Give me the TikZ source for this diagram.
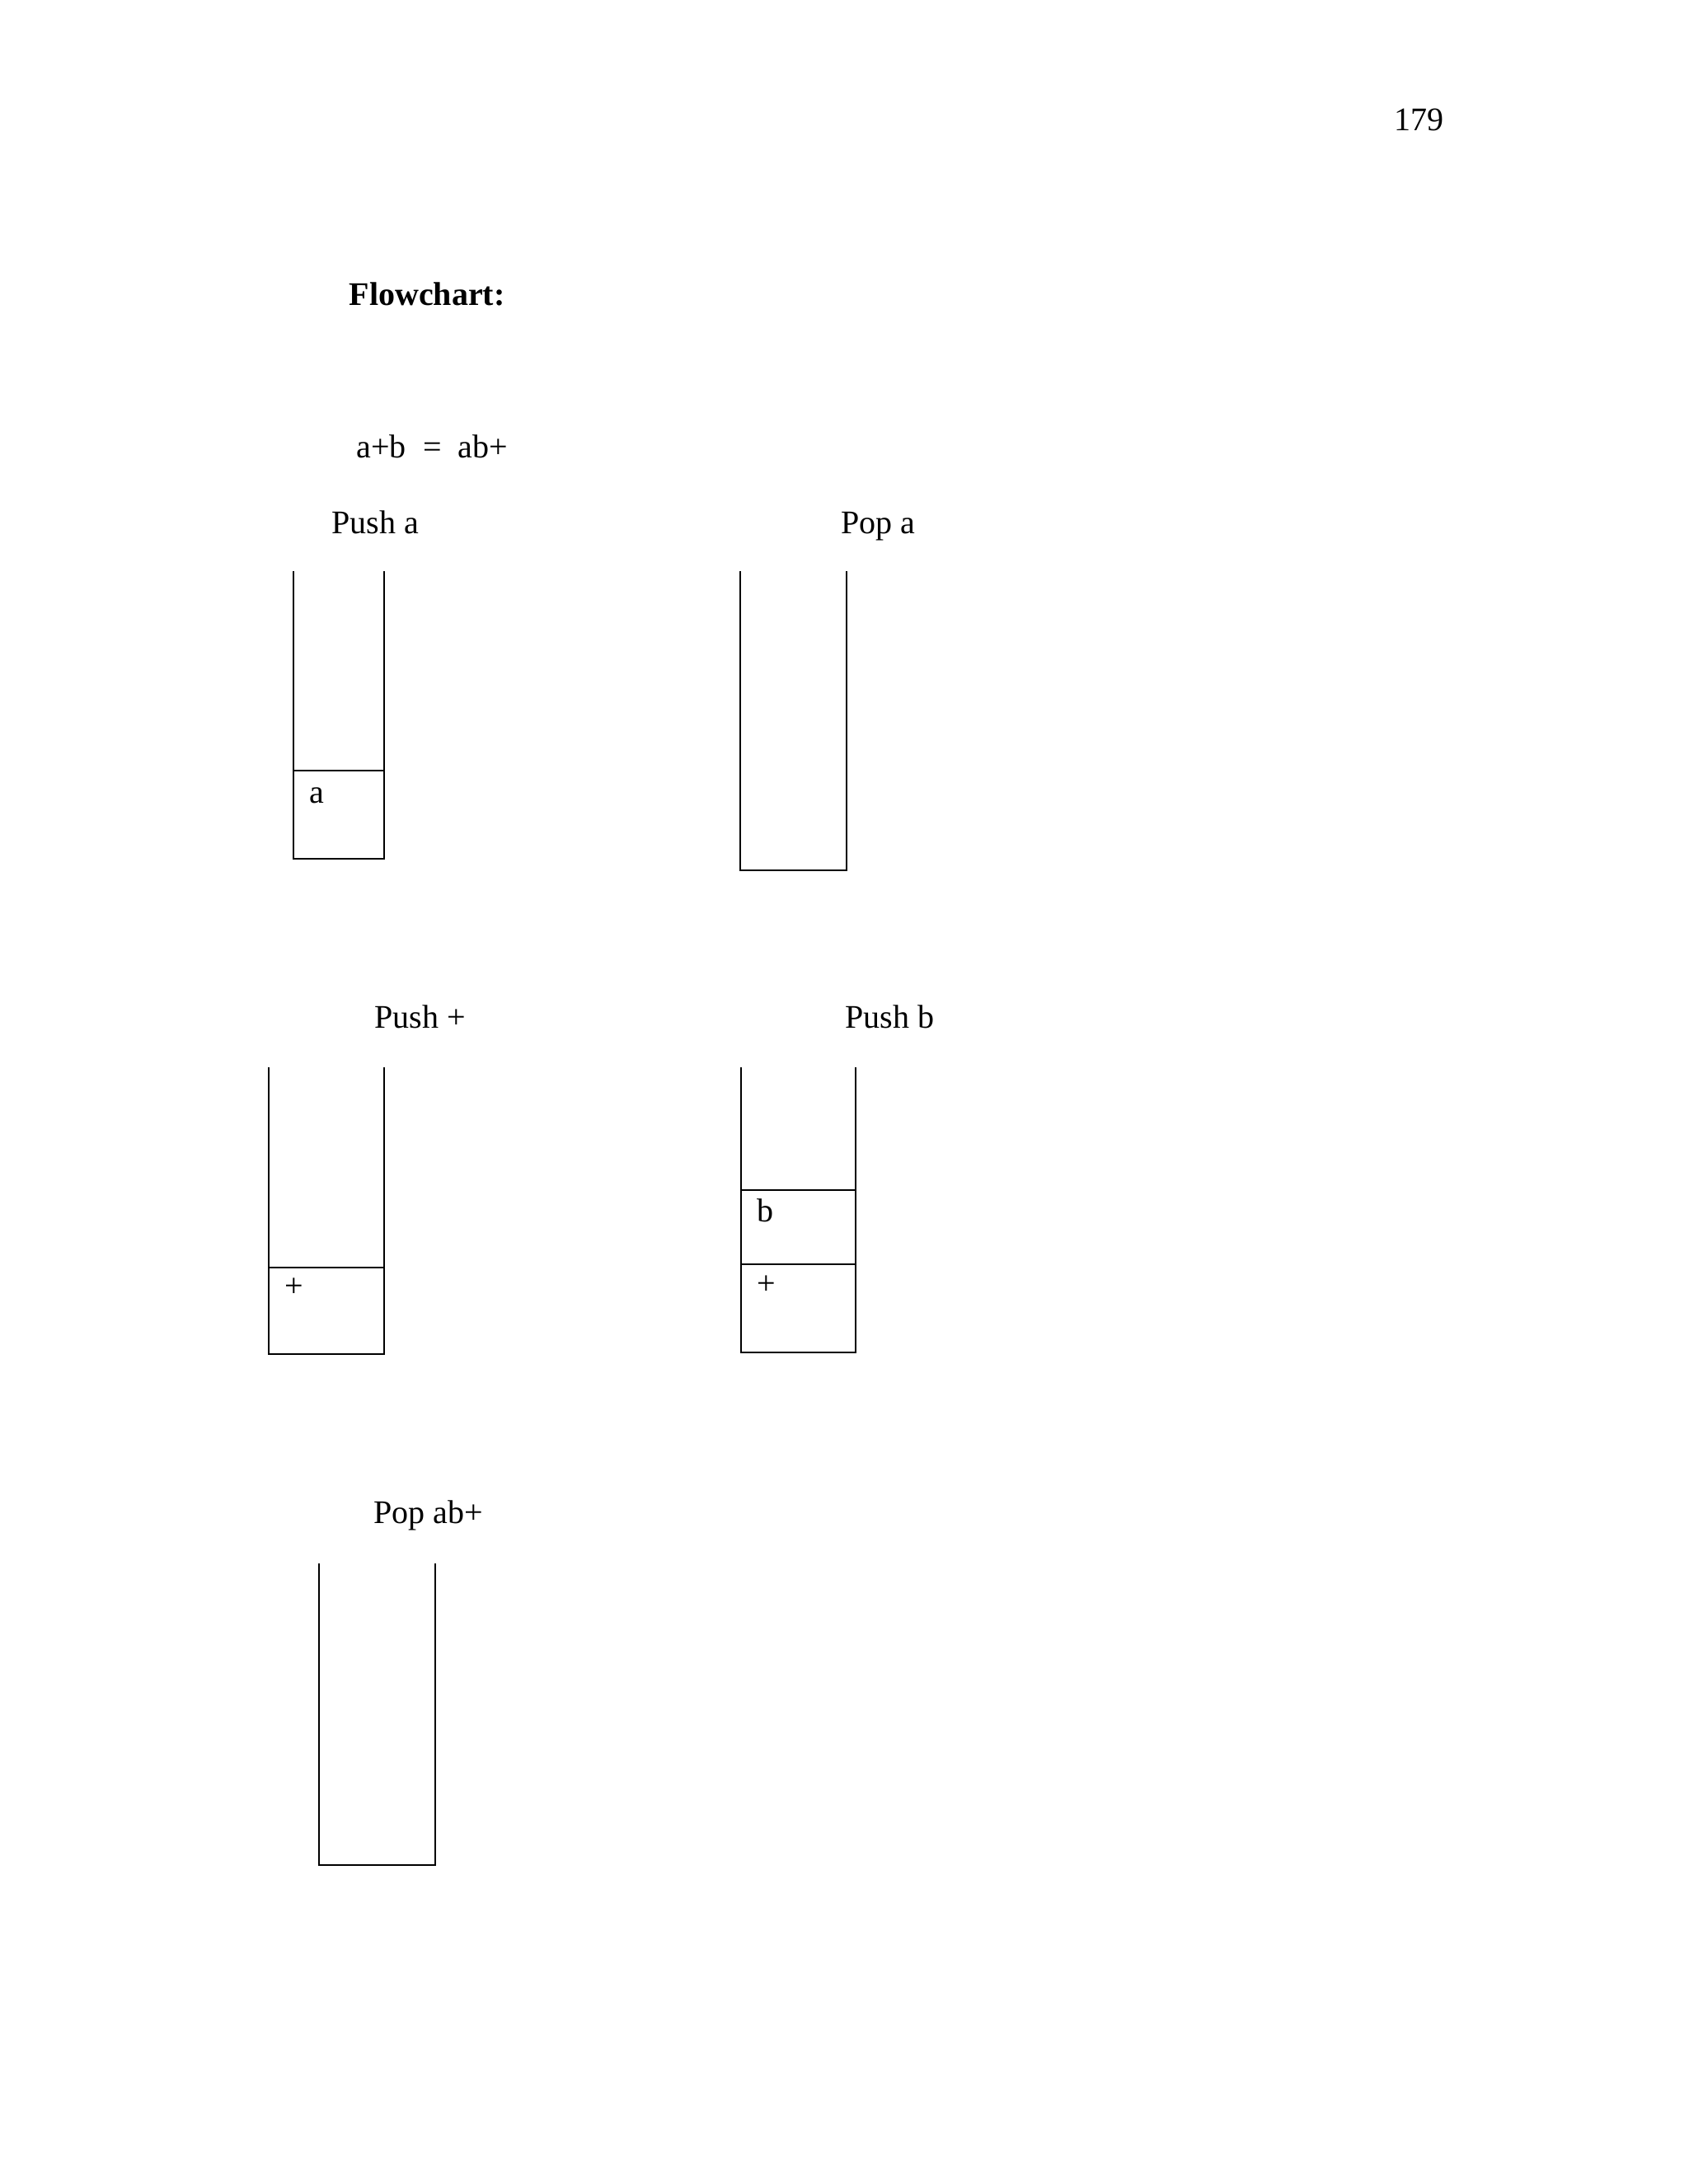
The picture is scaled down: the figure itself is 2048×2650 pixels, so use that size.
\documentclass[tikz,border=0pt]{standalone}
\usepackage{fontspec}
\setmainfont{Liberation Serif}
\usetikzlibrary{positioning}

\tikzset{
  lbl/.style={inner sep=0pt, anchor=base west, font=\fontsize{12}{14}\selectfont},
  wall/.style={line width=0.6pt},
}

\begin{document}
\begin{tikzpicture}[x=0.10542mm, y=-0.10542mm]
\useasboundingbox (0,0) rectangle (2048,2650);

\node[lbl] (pagenum) at (1691,158) {179};
\node[lbl, font=\fontsize{12}{14}\selectfont\bfseries] (title) at (423,370) {Flowchart:};
\node[lbl] (expr) at (432,555) {a+b~~=~~ab+};

% push a
\node[lbl] (pusha) at (402,647) {Push a};
\draw[wall] (356,693) |- (466,1042) -- (466,693);
\draw[wall] (356,935) -- (466,935);
\node[lbl] (cella) at (375,974) {a};

% pop a
\node[lbl] (popa) at (1020,647) {Pop a};
\draw[wall] (898,693) |- (1027,1056) -- (1027,693);

% push +
\node[lbl] (pushplus) at (454,1247) {Push +};
\draw[wall] (326,1295) |- (466,1643) -- (466,1295);
\draw[wall] (326,1538) -- (466,1538);
\node[lbl] (cellplus) at (345,1573) {+};

% push b
\node[lbl] (pushb) at (1025,1247) {Push b};
\draw[wall] (899,1295) |- (1038,1641) -- (1038,1295);
\draw[wall] (899,1444) -- (1038,1444);
\draw[wall] (899,1534) -- (1038,1534);
\node[lbl] (cellb) at (918,1482) {b};
\node[lbl] (cellplustwo) at (918,1570) {+};

% pop ab+
\node[lbl] (popall) at (453,1848) {Pop ab+};
\draw[wall] (387,1897) |- (528,2263) -- (528,1897);
\end{tikzpicture}
\end{document}
